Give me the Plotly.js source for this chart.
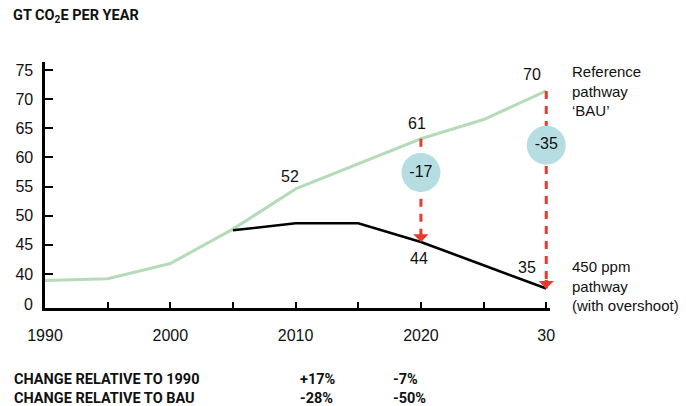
<!DOCTYPE html>
<html>
<head>
<meta charset="utf-8">
<script src="https://cdn.plot.ly/plotly-3.0.1.min.js"></script>
<style>html,body{margin:0;padding:0;background:#fff;}#chart{width:686px;height:406px;}</style>
</head>
<body>
<div id="chart"></div>
<script>
// ---- data ----
const years = [1990, 1995, 2000, 2005, 2010, 2015, 2020, 2025, 2030];
const bau = [38.9, 39.2, 41.8, 47.7, 54.6, 58.9, 63.2, 66.5, 71.4];
const ppmYears = [2005, 2010, 2015, 2020, 2025, 2030];
const ppm450 = [47.5, 48.7, 48.7, 45.5, 41.5, 37.5];
const bauLabelYears = [2010, 2020, 2030];
const bauLabels = ['52', '61', '70'];
const ppmLabelYears = [2020, 2030];
const ppmLabels = ['44', '35'];
const gapYears = [2020, 2030];
const gapLabels = ['-17', '-35'];
const yTickVals = [40, 45, 50, 55, 60, 65, 70, 75];
const yTickText = ['40', '45', '50', '55', '60', '65', '70', '75'];
const xTickText = ['1990', '', '2000', '', '2010', '', '2020', '', '30'];
const seriesNames = ['Reference<br>pathway<br>‘BAU’', '450 ppm<br>pathway<br>(with overshoot)'];
const tableRows = ['CHANGE RELATIVE TO 1990', 'CHANGE RELATIVE TO BAU'];
const change2020 = ['+17%', '-28%'];
const change2030 = ['-7%', '-50%'];

// ---- layout constants ----
const W = 686, H = 406;
const M = {l: 45, r: 136, t: 62, b: 98};
const PW = W - M.l - M.r, PH = H - M.t - M.b;
const px = x => (x - M.l) / PW;
const py = y => (M.t + PH - y) / PH;
const badgeY = [57.4, 62.1];
const GREEN = '#b6dbb9', RED = '#e63b2e', BADGE = '#b6dee2';
const REG = 'Liberation Sans, Arial, sans-serif';
const BOLD = 'Roboto, Liberation Sans, Arial, sans-serif';

const bauAt = y => bau[years.indexOf(y)];
const ppmAt = y => ppm450[ppmYears.indexOf(y)];

const arrowX = [], arrowY = [];
gapYears.forEach(y => { arrowX.push(y, y, null); arrowY.push(bauAt(y), ppmAt(y), null); });

const traces = [
  {x: years, y: bau, mode: 'lines', line: {color: GREEN, width: 3}, hoverinfo: 'skip'},
  {x: ppmYears, y: ppm450, mode: 'lines', line: {color: '#000', width: 2.6}, hoverinfo: 'skip'},
  {x: arrowX, y: arrowY, mode: 'lines', line: {color: RED, width: 3, dash: '8px,7px'},
   hoverinfo: 'skip', connectgaps: false},
  {x: gapYears, y: badgeY, mode: 'markers+text', text: gapLabels, textposition: 'middle center',
   textfont: {family: REG, size: 16, color: '#111'},
   marker: {size: 39, color: BADGE, line: {width: 0}}, cliponaxis: false, hoverinfo: 'skip'}
];

const ann = [];
// arrowheads at the 450 ppm end of each gap
gapYears.forEach(y => ann.push({x: y, y: ppmAt(y), text: '', showarrow: true, ax: 0, ay: -10,
  arrowhead: 1, arrowwidth: 3, arrowsize: 0.85, arrowcolor: RED, standoff: 0}));
const bauShift = [[-6, 12], [-4, 15], [-14, 16]];
bauLabelYears.forEach((y, i) => ann.push({x: y, y: bauAt(y), text: bauLabels[i], showarrow: false,
  xshift: bauShift[i][0], yshift: bauShift[i][1], font: {family: REG, size: 16, color: '#111'}}));
const ppmShift = [[-2, -17], [-19, 21]];
ppmLabelYears.forEach((y, i) => ann.push({x: y, y: ppmAt(y), text: ppmLabels[i], showarrow: false,
  xshift: ppmShift[i][0], yshift: ppmShift[i][1], font: {family: REG, size: 16, color: '#111'}}));
// broken-axis "0" label
ann.push({xref: 'paper', yref: 'paper', x: 0, y: 0, xanchor: 'right', yanchor: 'middle', xshift: -10, yshift: 4,
  text: '0', showarrow: false, font: {family: REG, size: 16, color: '#111'}});
// series labels
ann.push({xref: 'paper', yref: 'paper', x: px(570), y: py(90.5), xanchor: 'left', yanchor: 'middle', align: 'left',
  text: seriesNames[0], showarrow: false, font: {family: REG, size: 15, color: '#111'}});
ann.push({xref: 'paper', yref: 'paper', x: px(570), y: py(286), xanchor: 'left', yanchor: 'middle', align: 'left',
  text: seriesNames[1], showarrow: false, font: {family: REG, size: 15, color: '#111'}});
// table (one annotation per column)
const tableFont = {family: BOLD, size: 14.5, color: '#111', weight: 700};
const colText = cells => cells.join('<br>');
[[12, tableRows], [298, change2020], [391, change2030]].forEach(([x, cells]) => {
  ann.push({xref: 'paper', yref: 'paper', x: px(x), y: py(388.5), xanchor: 'left', yanchor: 'middle', align: 'left',
    text: colText(cells), showarrow: false, font: tableFont});
});

const layout = {
  width: W, height: H, margin: M, showlegend: false,
  paper_bgcolor: '#fff', plot_bgcolor: '#fff',
  title: {text: 'GT CO<sub>2</sub>E PER YEAR', x: 13 / W, xref: 'container', xanchor: 'left',
    y: 1 - 15 / H, yref: 'container', yanchor: 'middle', font: {family: BOLD, size: 14.5, color: '#111', weight: 700}},
  xaxis: {range: [1990, 2030.3], tickvals: years, ticktext: xTickText, ticks: 'inside', ticklen: 6, tickwidth: 2,
    tickcolor: '#000', showline: true, linecolor: '#000', linewidth: 2.6, showgrid: false, zeroline: false,
    ticklabelstandoff: 11, tickfont: {family: REG, size: 16, color: '#111'}, fixedrange: true},
  yaxis: {range: [34.17, 76.37], tickvals: yTickVals, ticktext: yTickText, ticks: 'inside', ticklen: 8, tickwidth: 2,
    tickcolor: '#000', showline: true, linecolor: '#000', linewidth: 2.6, showgrid: false, zeroline: false,
    ticklabelstandoff: 6, tickfont: {family: REG, size: 16, color: '#111'}, fixedrange: true},
  annotations: ann
};

Plotly.newPlot('chart', traces, layout, {displayModeBar: false, staticPlot: true});
</script>
</body>
</html>
